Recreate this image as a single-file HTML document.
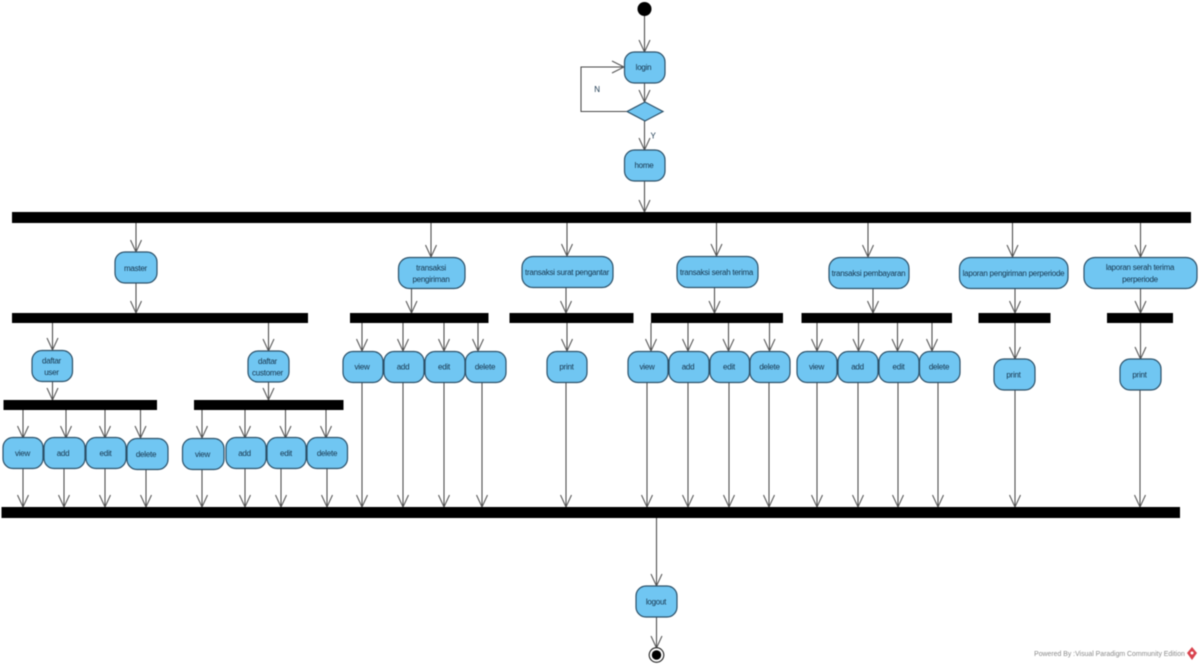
<!DOCTYPE html>
<html><head><meta charset="utf-8"><style>
html,body{margin:0;padding:0;background:#fff;width:1200px;height:666px;overflow:hidden}
svg{display:block;filter:blur(.4px)}
.l{fill:none;stroke:#484848;stroke-width:1.05}
.a{fill:none;stroke:#555;stroke-width:1.05}
.n{fill:#70c6f2;stroke:#2c5068;stroke-width:1.2}
.b{fill:#000}
text{font-family:"Liberation Sans",sans-serif;font-size:8px;letter-spacing:-.25px;fill:#16344c;text-anchor:middle}
</style></head><body>
<svg width="1200" height="666" viewBox="0 0 1200 666" xmlns="http://www.w3.org/2000/svg">

<!-- connectors -->
<g class="l">
<path d="M644.5 16V52M644.5 83V102M644.5 121V150M644.5 181V212"/>
<path d="M627 111.5H581V67H624"/>
<path d="M136 223V252M136 283V313M431 223V257M567 223V256M716.5 223V256M868 223V257M1012.5 223V257M1140.5 223V257"/>
<path d="M52.5 323V350M52.5 381V400M268.5 323V351M268.5 382V400"/>
<path d="M23 410V438M66 410V438M105 410V438M140.5 410V438M202 410V438M245 410V438M285.5 410V438M326 410V438"/>
<path d="M23 468V507M64 468V507M105 468V507M146 469V507M202 469V507M245 468V507M281 468V507M327 468V507"/>
<path d="M411.5 288V313M566 287V313M714.5 287V313M873 288V313M1015 288V313M1140.5 288V313"/>
<path d="M362 323V351M403 323V351M444 323V351M478 323V351M567 323V351M651 323V351M688 323V351M728.5 323V351M769.5 323V351M817 323V351M858.5 323V351M897.5 323V351M932 323V351M1015 323V359M1140.5 323V359"/>
<path d="M362 382V507M403 382V507M444 382V507M482 382V507M566 382V507M647 382V507M688 382V507M729 382V507M769 382V507M817 382V507M858 382V507M898 382V507M938 382V507M1015 390V507M1140 390V507"/>
<path d="M656.5 518V586M656.5 617V648"/>
</g>

<!-- arrowheads -->
<g class="a">
<path d="M639 40L644.5 52L650 40M612 61L624 67L612 73M639 90L644.5 102L650 90M639 138L644.5 150L650 138M639 200L644.5 212L650 200"/>
<path d="M130.5 240L136 252L141.5 240M130.5 301L136 313L141.5 301M425.5 245L431 257L436.5 245M561.5 244L567 256L572.5 244M711 244L716.5 256L722 244M862.5 245L868 257L873.5 245M1007 245L1012.5 257L1018 245M1135 245L1140.5 257L1146 245"/>
<path d="M47 338L52.5 350L58 338M47 388L52.5 400L58 388M263 339L268.5 351L274 339M263 388L268.5 400L274 388"/>
<path d="M17.5 426L23 438L28.5 426M60.5 426L66 438L71.5 426M99.5 426L105 438L110.5 426M135 426L140.5 438L146 426M196.5 426L202 438L207.5 426M239.5 426L245 438L250.5 426M280 426L285.5 438L291 426M320.5 426L326 438L331.5 426"/>
<path d="M17.5 495L23 507L28.5 495M58.5 495L64 507L69.5 495M99.5 495L105 507L110.5 495M140.5 495L146 507L151.5 495M196.5 495L202 507L207.5 495M239.5 495L245 507L250.5 495M275.5 495L281 507L286.5 495M321.5 495L327 507L332.5 495"/>
<path d="M406 301L411.5 313L417 301M560.5 301L566 313L571.5 301M709 301L714.5 313L720 301M867.5 301L873 313L878.5 301M1009.5 301L1015 313L1020.5 301M1135 301L1140.5 313L1146 301"/>
<path d="M356.5 339L362 351L367.5 339M397.5 339L403 351L408.5 339M438.5 339L444 351L449.5 339M472.5 339L478 351L483.5 339M561.5 339L567 351L572.5 339M645.5 339L651 351L656.5 339M682.5 339L688 351L693.5 339M723 339L728.5 351L734 339M764 339L769.5 351L775 339M811.5 339L817 351L822.5 339M853 339L858.5 351L864 339M892 339L897.5 351L903 339M926.5 339L932 351L937.5 339M1009.5 347L1015 359L1020.5 347M1135 347L1140.5 359L1146 347"/>
<path d="M356.5 495L362 507L367.5 495M397.5 495L403 507L408.5 495M438.5 495L444 507L449.5 495M476.5 495L482 507L487.5 495M560.5 495L566 507L571.5 495M641.5 495L647 507L652.5 495M682.5 495L688 507L693.5 495M723.5 495L729 507L734.5 495M763.5 495L769 507L774.5 495M811.5 495L817 507L822.5 495M852.5 495L858 507L863.5 495M892.5 495L898 507L903.5 495M932.5 495L938 507L943.5 495M1009.5 495L1015 507L1020.5 495M1134.5 495L1140 507L1145.5 495"/>
<path d="M651 574L656.5 586L662 574M651 636L656.5 648L662 636"/>
</g>

<!-- bars -->
<g class="b">
<rect x="12" y="212" width="1179" height="11"/>
<rect x="12" y="313" width="296" height="10"/>
<rect x="350" y="313" width="138.5" height="10"/>
<rect x="509.5" y="313" width="124" height="10"/>
<rect x="651" y="313" width="132" height="10"/>
<rect x="801.5" y="313" width="150.5" height="10"/>
<rect x="978.5" y="313" width="72" height="10"/>
<rect x="1107" y="313" width="66" height="10"/>
<rect x="3.5" y="400" width="153.5" height="10"/>
<rect x="194" y="400" width="149.5" height="10"/>
<rect x="1.5" y="507" width="1178.5" height="11"/>
</g>

<!-- start / end -->
<circle cx="644.5" cy="9" r="7" fill="#000"/>
<circle cx="656.5" cy="655" r="7.3" fill="#fff" stroke="#222" stroke-width="1.1"/>
<circle cx="656.5" cy="655" r="4.7" fill="#000"/>

<!-- nodes -->
<g class="n">
<rect x="624.5" y="52" width="40.5" height="31" rx="10"/>
<path d="M627 111.5L645 102L663 111.5L645 121Z"/>
<rect x="624.5" y="150" width="40.5" height="31" rx="10"/>
<rect x="115" y="252" width="42" height="31" rx="10"/>
<rect x="398.5" y="257.5" width="66.5" height="31" rx="11"/>
<rect x="522" y="256.5" width="91" height="31" rx="11"/>
<rect x="677" y="256.5" width="81" height="31" rx="11"/>
<rect x="829" y="257.5" width="80" height="31" rx="11"/>
<rect x="959.5" y="257.5" width="108.5" height="31" rx="11"/>
<rect x="1084" y="257.5" width="113" height="31" rx="11"/>
<rect x="32" y="350.5" width="40.5" height="31" rx="10"/>
<rect x="248" y="351" width="41" height="31" rx="10"/>
<rect x="3" y="437.5" width="40" height="31" rx="10"/>
<rect x="44" y="437.5" width="41" height="31" rx="10"/>
<rect x="86" y="437.5" width="40" height="31" rx="10"/>
<rect x="127" y="438.5" width="41" height="31" rx="10"/>
<rect x="182.5" y="438.5" width="41.5" height="31" rx="10"/>
<rect x="226" y="437.5" width="40" height="31" rx="10"/>
<rect x="267" y="437.5" width="39" height="31" rx="10"/>
<rect x="307" y="437.5" width="40.5" height="31" rx="10"/>
<rect x="343" y="351.5" width="40" height="31" rx="10"/>
<rect x="384" y="351.5" width="40" height="31" rx="10"/>
<rect x="425" y="351.5" width="40" height="31" rx="10"/>
<rect x="465.5" y="351.5" width="40.5" height="31" rx="10"/>
<rect x="547" y="351.5" width="40" height="31" rx="10"/>
<rect x="628" y="351.5" width="40" height="31" rx="10"/>
<rect x="669" y="351.5" width="40" height="31" rx="10"/>
<rect x="710" y="351.5" width="39.5" height="31" rx="10"/>
<rect x="750" y="351.5" width="40" height="31" rx="10"/>
<rect x="797" y="351.5" width="40" height="31" rx="10"/>
<rect x="838" y="351.5" width="40" height="31" rx="10"/>
<rect x="879" y="351.5" width="40" height="31" rx="10"/>
<rect x="919.5" y="351.5" width="40.5" height="31" rx="10"/>
<rect x="994" y="359" width="41" height="31" rx="10"/>
<rect x="1120" y="359" width="41" height="31" rx="10"/>
<rect x="636" y="586" width="41" height="31" rx="10"/>
</g>

<!-- labels -->
<g>
<text x="643.5" y="70">login</text>
<text x="644" y="168">home</text>
<text x="597" y="92">N</text>
<text x="653" y="138.5">Y</text>
<text x="135.5" y="271">master</text>
<text x="431" y="270.5">transaksi</text><text x="431" y="282">pengiriman</text>
<text x="567" y="275">transaksi surat pengantar</text>
<text x="716.5" y="275">transaksi serah terima</text>
<text x="868.5" y="276">transaksi pembayaran</text>
<text x="1013.5" y="276">laporan pengiriman perperiode</text>
<text x="1140" y="270">laporan serah terima</text><text x="1140" y="282">perperiode</text>
<text x="51.5" y="363.5">daftar</text><text x="51.5" y="375">user</text>
<text x="267.5" y="364">daftar</text><text x="267.5" y="375.5">customer</text>
<text x="22.5" y="456">view</text>
<text x="63" y="456">add</text>
<text x="105.5" y="456">edit</text>
<text x="146" y="457">delete</text>
<text x="202.5" y="457">view</text>
<text x="244.5" y="456">add</text>
<text x="286" y="456">edit</text>
<text x="327" y="456">delete</text>
<text x="362" y="369.5">view</text>
<text x="403" y="369.5">add</text>
<text x="444" y="369.5">edit</text>
<text x="485" y="369.5">delete</text>
<text x="566.5" y="369.5">print</text>
<text x="647" y="369.5">view</text>
<text x="688" y="369.5">add</text>
<text x="729" y="369.5">edit</text>
<text x="769.5" y="369.5">delete</text>
<text x="816.5" y="369.5">view</text>
<text x="857.5" y="369.5">add</text>
<text x="898.5" y="369.5">edit</text>
<text x="939" y="369.5">delete</text>
<text x="1013.5" y="377.5">print</text>
<text x="1139.5" y="377.5">print</text>
<text x="656" y="604.5">logout</text>
</g>

<!-- footer -->
<text x="1109.5" y="656" style="font-size:6.9px;letter-spacing:0;fill:#8a8a8a">Powered By  :Visual Paradigm Community Edition</text>
<path d="M1192 647L1197 653L1192 660L1187 653Z" fill="#d9434e"/>
<circle cx="1192" cy="653" r="1.5" fill="#fff"/>
</svg>
</body></html>
